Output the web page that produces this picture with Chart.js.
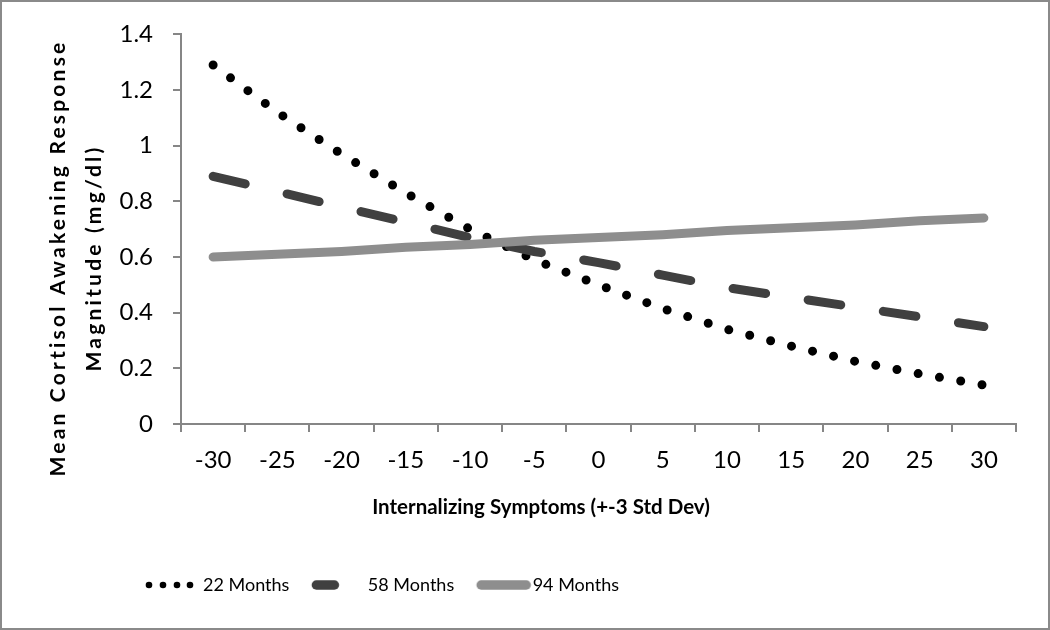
<!DOCTYPE html>
<html>
<head>
<meta charset="utf-8">
<script src="https://cdn.jsdelivr.net/npm/chart.js@4.4.1/dist/chart.umd.min.js"></script>
<style>
  html, body { margin: 0; padding: 0; background: #fff; }
  canvas { display: block; }
</style>
</head>
<body>
<canvas id="c" width="1050" height="630"></canvas>
<script>
// ---- data ----
const categories = ['-30', '-25', '-20', '-15', '-10', '-5', '0', '5', '10', '15', '20', '25', '30'];
const months22 = [1.29, 1.12, 0.97, 0.83, 0.70, 0.59, 0.50, 0.415, 0.34, 0.28, 0.225, 0.18, 0.14];
const months58 = [0.89, 0.835, 0.78, 0.725, 0.67, 0.62, 0.58, 0.535, 0.49, 0.455, 0.42, 0.385, 0.35];
const months94 = [0.60, 0.61, 0.62, 0.635, 0.645, 0.66, 0.67, 0.68, 0.695, 0.705, 0.715, 0.73, 0.74];
const seriesNames = ['22 Months', '58 Months', '94 Months'];
const yTickValues = [0, 0.2, 0.4, 0.6, 0.8, 1, 1.2, 1.4];
const xTitle = 'Internalizing Symptoms (+-3 Std Dev)';
const yTitle = ['Mean Cortisol Awakening Response', 'Magnitude (mg/dl)'];

// ---- styles / layout ----
const AXIS_GRAY = '#868686';
const C22 = '#000000', C58 = '#404040', C94 = '#8e8e8e';
const TICK_FONT = { family: 'Lato', size: 24 };
const LEGEND_SIZE = 18;
const LEGEND_PAD = 19.5;
const LEGEND_FONT = { family: 'Lato', size: LEGEND_SIZE };
const PAD = { left: 20, right: 34, top: 33, bottom: 14 };
const PLOT_BOTTOM = 424;
const PLOT_LEFT = 181;
const LEGEND_LEFT = 203 - 50 - LEGEND_SIZE / 2 - LEGEND_PAD;
const LEGEND_CENTER_Y = 585;

function makeIcon(kind) {
  const c = document.createElement('canvas');
  c.width = 70; c.height = 14;
  const g = c.getContext('2d');
  if (kind === 0) {
    g.fillStyle = C22;
    [15, 29, 43, 56].forEach(x => { g.beginPath(); g.arc(x, 7, 3.3, 0, Math.PI * 2); g.fill(); });
  } else {
    g.strokeStyle = kind === 1 ? C58 : C94;
    g.lineWidth = 9.5;
    g.lineCap = 'round';
    g.beginPath();
    g.moveTo(17.5, 7);
    g.lineTo(kind === 1 ? 35.5 : 62.5, 7);
    g.stroke();
  }
  return c;
}
const legendIcons = [makeIcon(0), makeIcon(1), makeIcon(2)];

const framePlugin = {
  id: 'frame',
  beforeDraw(chart) {
    const ctx = chart.ctx;
    ctx.save();
    ctx.fillStyle = '#fff';
    ctx.fillRect(0, 0, chart.width, chart.height);
    ctx.restore();
  },
  afterLayout(chart) {
    const lg = chart.legend;
    if (lg) {
      lg.left = LEGEND_LEFT;
      lg.top = LEGEND_CENTER_Y - LEGEND_PAD - LEGEND_SIZE / 2;
    }
  },
  afterDraw(chart) {
    const ctx = chart.ctx;
    ctx.save();
    ctx.strokeStyle = '#8a8a8a';
    ctx.lineWidth = 2;
    ctx.strokeRect(1, 1, chart.width - 2, chart.height - 2);
    // axis titles
    ctx.fillStyle = '#000';
    ctx.textAlign = 'center';
    ctx.textBaseline = 'middle';
    ctx.font = 'bold 20.5px Lato';
    ctx.fillText(xTitle, 541, 507);
    ctx.translate(58, 258);
    ctx.rotate(-Math.PI / 2);
    ctx.font = 'bold 21px Lato';
    try { ctx.letterSpacing = '3.2px'; } catch (e) {}
    ctx.fillText(yTitle[0], 0, 0);
    ctx.fillText(yTitle[1], 0, 36);
    ctx.restore();
  }
};

new Chart(document.getElementById('c'), {
  type: 'line',
  data: {
    labels: categories,
    datasets: [
      { label: seriesNames[0], data: months22, borderColor: C22, backgroundColor: C22, borderWidth: 9,
        borderDash: [0, 21.6], borderCapStyle: 'round', pointRadius: 0, tension: 0, fill: false, order: 2 },
      { label: seriesNames[1], data: months58, borderColor: C58, backgroundColor: C58, borderWidth: 9,
        borderDash: [33, 43], borderCapStyle: 'round', pointRadius: 0, tension: 0, fill: false, order: 1 },
      { label: seriesNames[2], data: months94, borderColor: C94, backgroundColor: C94, borderWidth: 9,
        borderCapStyle: 'round', pointRadius: 0, tension: 0, fill: false, order: 0 }
    ]
  },
  options: {
    responsive: false,
    animation: false,
    devicePixelRatio: 1,
    layout: { padding: PAD },
    plugins: {
      tooltip: { enabled: false },
      legend: {
        position: 'bottom',
        align: 'start',
        labels: {
          usePointStyle: true,
          pointStyleWidth: 50,
          boxWidth: 50,
          padding: LEGEND_PAD,
          color: '#000',
          font: LEGEND_FONT,
          sort: (a, b) => a.datasetIndex - b.datasetIndex,
          generateLabels(chart) {
            const items = Chart.defaults.plugins.legend.labels.generateLabels(chart);
            items.forEach(it => { it.pointStyle = legendIcons[it.datasetIndex]; });
            return items;
          }
        }
      }
    },
    scales: {
      x: {
        type: 'category',
        offset: true,
        grid: { offset: true, drawOnChartArea: false, drawTicks: true, tickLength: 8, color: AXIS_GRAY, lineWidth: 2 },
        border: { color: AXIS_GRAY, width: 2 },
        ticks: { font: TICK_FONT, color: '#000', padding: 14, maxRotation: 0, autoSkip: false },
        afterFit(s) {
          const lg = s.chart.legend;
          const lh = lg && lg.height ? lg.height : 0;
          s.height = s.chart.height - PAD.bottom - lh - PLOT_BOTTOM;
        }
      },
      y: {
        min: 0,
        max: 1.4,
        afterBuildTicks(s) { s.ticks = yTickValues.map(v => ({ value: v })); },
        grid: { drawOnChartArea: false, drawTicks: true, tickLength: 8, color: AXIS_GRAY, lineWidth: 2 },
        border: { color: AXIS_GRAY, width: 2 },
        ticks: { font: TICK_FONT, color: '#000', padding: 20, callback: v => String(Math.round(v * 10) / 10) },
        afterFit(s) { s.width = PLOT_LEFT - PAD.left; }
      }
    }
  },
  plugins: [framePlugin]
});
</script>
</body>
</html>
